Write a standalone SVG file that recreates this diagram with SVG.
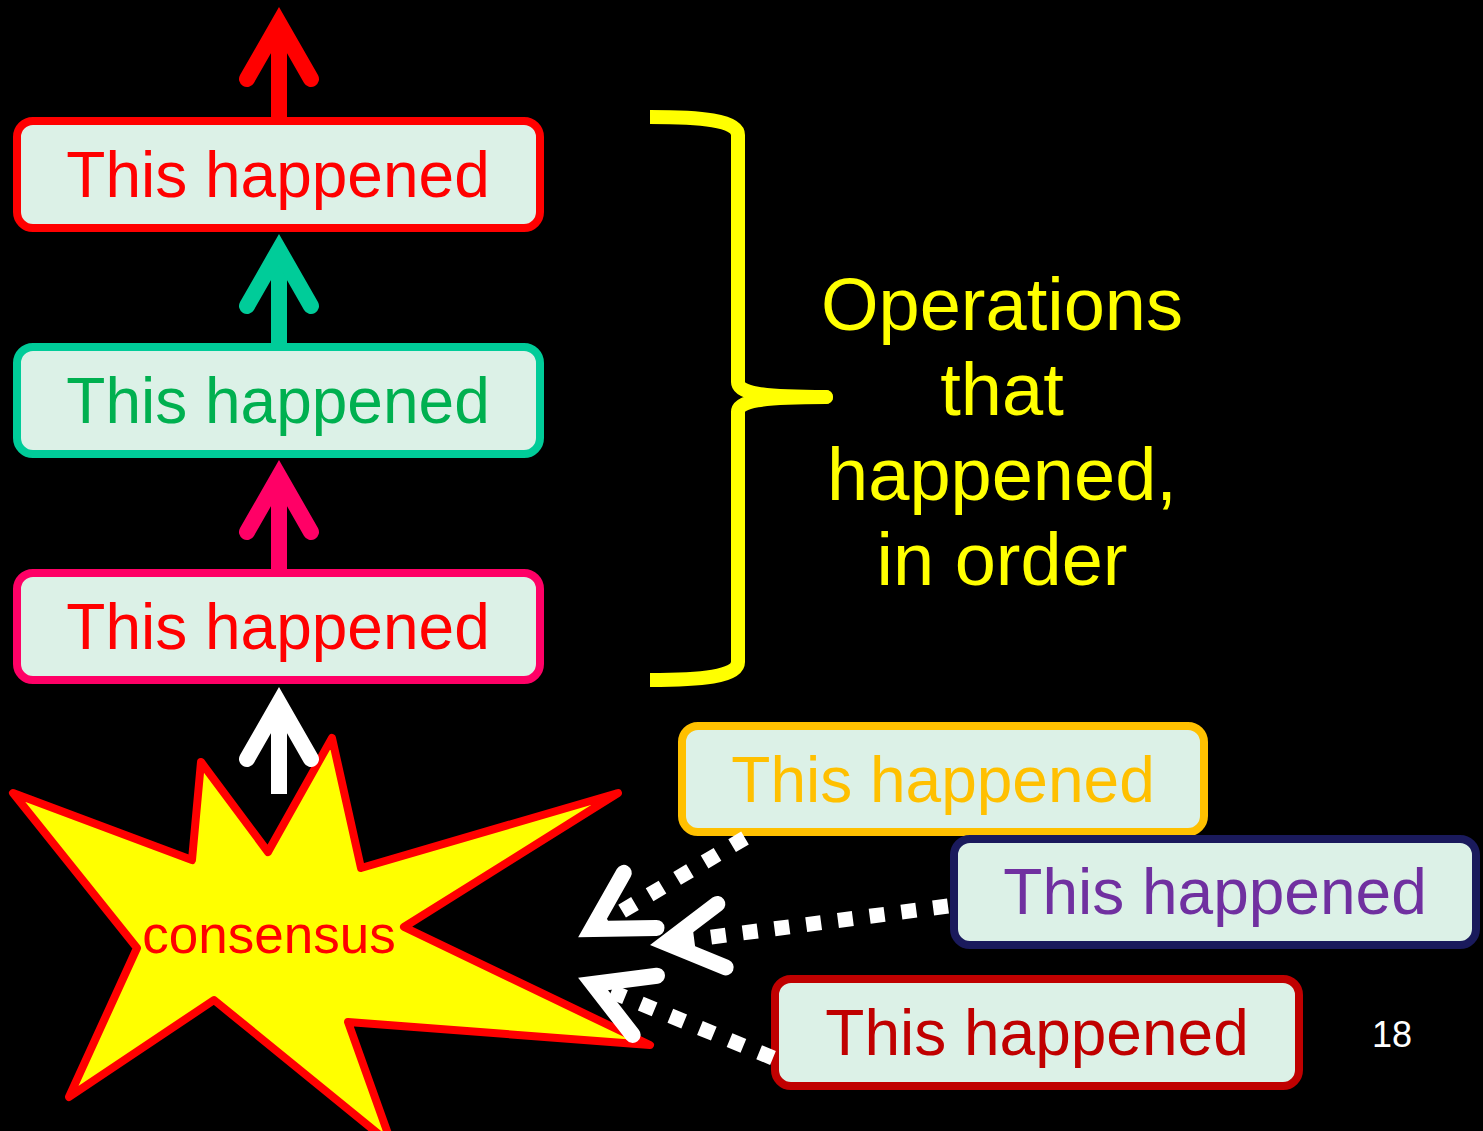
<svg xmlns="http://www.w3.org/2000/svg" width="1483" height="1131" viewBox="0 0 1483 1131">
  <style>
    .box { fill: #DCF1E7; stroke-width: 8; }
    .lbl { font-family: "Liberation Sans", Arial, sans-serif; font-size: 64px; text-anchor: middle; }
    .shaft { fill: none; stroke-width: 16; }
    .dots { fill: none; stroke: #FFFFFF; stroke-width: 15; stroke-dasharray: 15 17; }
    .head { fill: none; stroke-width: 16; stroke-linecap: round; stroke-linejoin: miter; stroke-dasharray: none; }
  </style>
  <defs>
    <!-- open chevron heads; the line ends at the inner vertex -->
    <marker id="hRed" markerUnits="userSpaceOnUse" orient="auto" refX="0" refY="0" overflow="visible">
      <path class="head" stroke="#FF0000" d="M -56 -32 L 0 0 L -56 32"/>
    </marker>
    <marker id="hTeal" markerUnits="userSpaceOnUse" orient="auto" refX="0" refY="0" overflow="visible">
      <path class="head" stroke="#00CC99" d="M -56 -32 L 0 0 L -56 32"/>
    </marker>
    <marker id="hPink" markerUnits="userSpaceOnUse" orient="auto" refX="0" refY="0" overflow="visible">
      <path class="head" stroke="#FF0066" d="M -56 -32 L 0 0 L -56 32"/>
    </marker>
    <marker id="hWhite" markerUnits="userSpaceOnUse" orient="auto" refX="0" refY="0" overflow="visible">
      <path class="head" stroke="#FFFFFF" d="M -56 -32 L 0 0 L -56 32"/>
    </marker>
  </defs>

  <rect width="1483" height="1131" fill="#000000"/>

  <!-- consensus burst -->
  <g id="consensus">
    <path d="M 13 793 L 192 860 L 201 762 L 268 852 L 332 738 L 361 868 L 618 793 L 404 927 L 650 1045 L 348 1022 L 392 1145 L 214 1000 L 69 1097 L 137 948 Z"
          fill="#FFFF00" stroke="#FF0000" stroke-width="8" stroke-linejoin="round"/>
    <text x="269" y="953" font-family="Liberation Sans, Arial, sans-serif" font-size="53" fill="#FF0000" text-anchor="middle">consensus</text>
  </g>

  <!-- ordered log -->
  <g id="op-top">
    <rect class="box" x="17" y="121" width="523" height="107" rx="16" stroke="#FF0000"/>
    <text class="lbl" x="278" y="197" fill="#FF0000">This happened</text>
  </g>
  <g id="op-middle">
    <rect class="box" x="17" y="347" width="523" height="107" rx="16" stroke="#00CC99"/>
    <text class="lbl" x="278" y="423" fill="#00B050">This happened</text>
  </g>
  <g id="op-bottom">
    <rect class="box" x="17" y="573" width="523" height="107" rx="16" stroke="#FF0066"/>
    <text class="lbl" x="278" y="649" fill="#FF0000">This happened</text>
  </g>

  <!-- proposed operations -->
  <g id="prop-orange">
    <rect class="box" x="682" y="726" width="522" height="106" rx="16" stroke="#FFC000"/>
    <text class="lbl" x="943" y="802" fill="#FFC000">This happened</text>
  </g>
  <g id="prop-purple">
    <rect class="box" x="954" y="839" width="522" height="106" rx="16" stroke="#1A1A5C"/>
    <text class="lbl" x="1215" y="914" fill="#7030A0">This happened</text>
  </g>
  <g id="prop-darkred">
    <rect class="box" x="775" y="979" width="524" height="107" rx="16" stroke="#C00000"/>
    <text class="lbl" x="1037" y="1055" fill="#C00000">This happened</text>
  </g>

  <!-- brace and caption -->
  <g id="caption">
    <path d="M 650 117 C 700 117 738 120 738 135 L 738 382 C 738 393 760 397 826 397 C 760 397 738 401 738 412 L 738 662 C 738 677 700 680 650 680"
          fill="none" stroke="#FFFF00" stroke-width="14" stroke-linecap="butt" stroke-linejoin="round"/>
    <circle cx="826" cy="397" r="7" fill="#FFFF00"/>
    <g font-family="Liberation Sans, Arial, sans-serif" font-size="74" fill="#FFFF00" text-anchor="middle">
      <text x="1002" y="330">Operations</text>
      <text x="1002" y="415">that</text>
      <text x="1002" y="500">happened,</text>
      <text x="1002" y="585">in order</text>
    </g>
  </g>

  <!-- connectors -->
  <g id="connectors">
    <line class="shaft" x1="279" y1="117" x2="279" y2="23" stroke="#FF0000" marker-end="url(#hRed)"/>
    <line class="shaft" x1="279" y1="343" x2="279" y2="250" stroke="#00CC99" marker-end="url(#hTeal)"/>
    <line class="shaft" x1="279" y1="569" x2="279" y2="476" stroke="#FF0066" marker-end="url(#hPink)"/>
    <line class="shaft" x1="279" y1="794" x2="279" y2="703" stroke="#FFFFFF" marker-end="url(#hWhite)"/>
    <line class="dots" x1="745" y1="838" x2="592" y2="929" marker-end="url(#hWhite)"/>
    <line class="dots" x1="948" y1="906" x2="666" y2="943" marker-end="url(#hWhite)"/>
    <line class="dots" x1="773" y1="1058" x2="593" y2="984" marker-end="url(#hWhite)"/>
  </g>

  <text x="1392" y="1047" font-family="Liberation Sans, Arial, sans-serif" font-size="36" fill="#FFFFFF" text-anchor="middle">18</text>
</svg>
